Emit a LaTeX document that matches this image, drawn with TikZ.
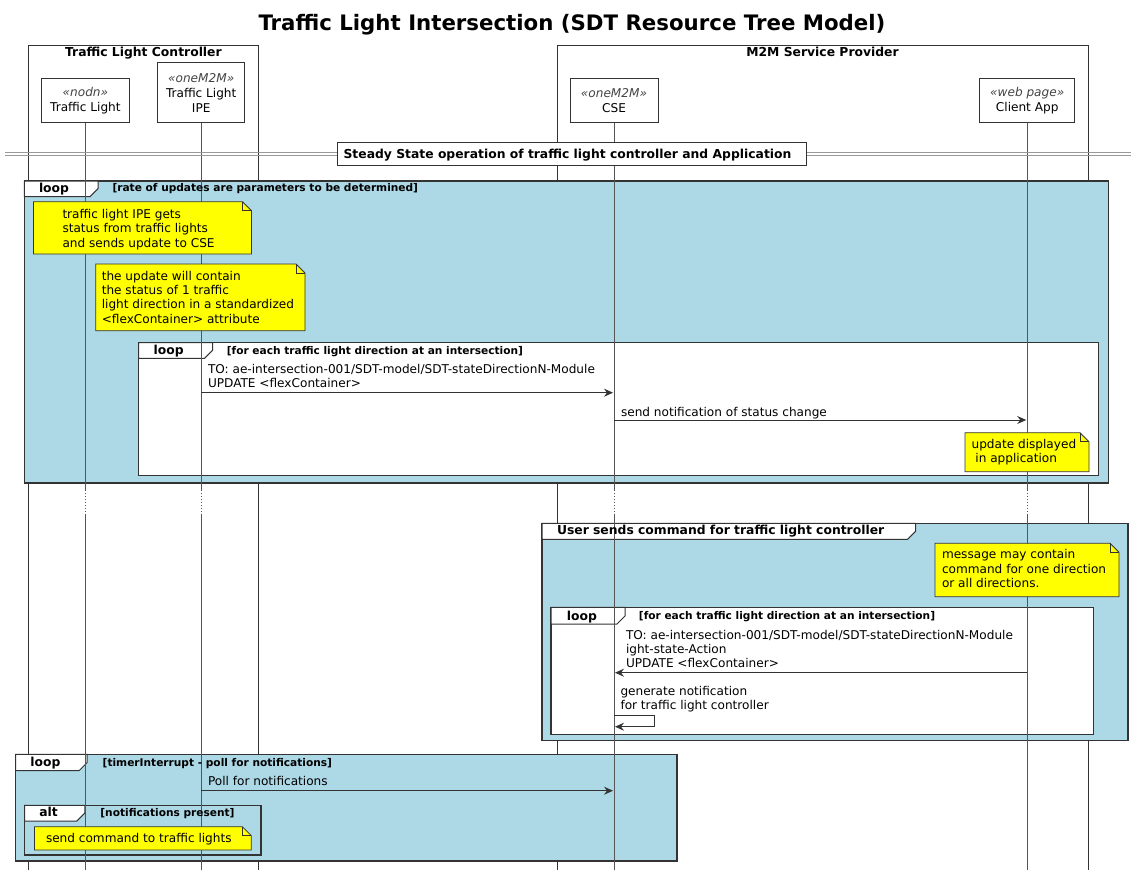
\documentclass[tikz,border=0pt]{standalone}
\usepackage{fontspec}
\setmainfont{DejaVu Sans}
\usetikzlibrary{arrows.meta}

\definecolor{grpblue}{HTML}{ADD8E6}
\definecolor{noteyel}{HTML}{FFFF00}
\definecolor{edgec}{HTML}{333333}
\definecolor{lifec}{HTML}{555555}
\definecolor{stereoc}{HTML}{444444}
\definecolor{dividerc}{HTML}{999999}

\newcommand\msgfont{\fontsize{12.1}{14.5}\selectfont}
\newcommand\partfont{\fontsize{12.1}{15}\selectfont}
\newcommand\headfont{\fontsize{12.35}{14.5}\selectfont\bfseries}
\newcommand\condfont{\fontsize{10.6}{13}\selectfont\bfseries}
\newcommand\titlefont{\fontsize{21.3}{25}\selectfont\bfseries}

% group header tab with the clipped lower-right corner
\newcommand\tabshape[4]{\path[tabsty] (#1,#2) -- (#3,#2) -- (#3,{#4-8}) -- ({#3-8},#4) -- (#1,#4) -- cycle;}
% note with a folded upper-right corner
\newcommand\notebox[4]{%
  \path[notesty] (#1,#2) -- ({#3-9},#2) -- (#3,{#2+9}) -- (#3,#4) -- (#1,#4) -- cycle;
  \draw[edgec, line width=0.8pt] ({#3-9},#2) -- ({#3-9},{#2+9}) -- (#3,{#2+9});}

\tikzset{
  every node/.style={inner sep=0pt, outer sep=0pt},
  boxline/.style={draw=edgec, line width=1pt},
  partbox/.style={draw=edgec, fill=white, line width=1pt, align=center, font=\partfont},
  life/.style={draw=lifec, line width=1pt},
  lifedot/.style={life, dash pattern=on 1pt off 2pt},
  grp/.style={fill=grpblue, draw=edgec, line width=1.5pt},
  inner/.style={fill=white, draw=edgec, line width=1.5pt},
  tabsty/.style={fill=white, draw=edgec, line width=1pt},
  notesty/.style={fill=noteyel, draw=edgec, line width=0.8pt},
  msg/.style={draw=edgec, line width=1pt, shorten >=1pt,
    -{Stealth[length=9pt, width=8pt, inset=3pt]}},
  txt/.style={anchor=base west, font=\msgfont, text=black},
  head/.style={anchor=base west, font=\headfont},
  cond/.style={anchor=base west, font=\condfont},
}

\begin{document}
\begin{tikzpicture}[x=1pt, y=-1pt]
\useasboundingbox (0,0) rectangle (1131,870);

% title
\node[anchor=base, font=\titlefont] (title) at (572,30) {Traffic Light Intersection (SDT Resource Tree Model)};

% helper levels
\coordinate (gapA) at (0,490);
\coordinate (gapB) at (0,515);
\coordinate (bottom) at (0,870);

% participant boxes (open at the bottom)
\draw[boxline] (28.6,870) -- (28.6,45) -- (258,45) -- (258,870);
\draw[boxline] (557,870) -- (557,45) -- (1088.4,45) -- (1088.4,870);
\node[anchor=base, font=\headfont] (tlcname) at (143.4,56) {Traffic Light Controller};
\node[anchor=base, font=\headfont] (m2mname) at (822.5,56) {M2M Service Provider};

% participants
\node[partbox, minimum width=87.2pt, minimum height=44.4pt] (tl) at (85.4,100.5)
  {{\itshape\color{stereoc}«nodn»}\\Traffic Light};
\node[partbox, minimum width=87.5pt, minimum height=60pt] (ipe) at (201.2,92.7)
  {{\itshape\color{stereoc}«oneM2M»}\\Traffic Light\\IPE};
\node[partbox, minimum width=88pt, minimum height=44.4pt] (cse) at (614,100.5)
  {{\itshape\color{stereoc}«oneM2M»}\\CSE};
\node[partbox, minimum width=94.5pt, minimum height=44.4pt] (app) at (1027.2,100.5)
  {{\itshape\color{stereoc}«web page»}\\Client App};

% group backgrounds
\draw[grp] (24.3,181) rectangle (1108.4,483.2);
\tabshape{24.3}{181}{98}{196.7}
\draw[inner] (138.6,342.5) rectangle (1098.6,475.7);
\tabshape{138.6}{342.5}{212.5}{358.3}

\draw[grp] (542.2,523.3) rectangle (1128,740.7);
\tabshape{542.2}{523.3}{915.5}{539.3}
\draw[inner] (551.2,607.3) rectangle (1093.6,734.3);
\tabshape{551.2}{607.3}{625}{624}

\draw[grp] (15.6,754.3) rectangle (677.2,861);
\tabshape{15.6}{754.3}{87}{770.7}
\draw[grp] (24.6,805.3) rectangle (261,855);
\tabshape{24.6}{805.3}{84.8}{821}

% lifelines
\foreach \p in {tl,ipe,cse,app} {
  \draw[life] (\p.south) -- (\p.south |- gapA);
  \draw[lifedot] (\p.south |- gapA) -- (\p.south |- gapB);
  \draw[life] (\p.south |- gapB) -- (\p.south |- bottom);
}

% divider
\draw[dividerc, line width=1pt] (5,152.3) -- (1131,152.3);
\draw[dividerc, line width=1pt] (5,155.3) -- (1131,155.3);
\node[draw=edgec, fill=white, line width=1pt, minimum width=469pt, minimum height=22.7pt] (divbox) at (572,153.7) {};
\node[head] (divtext) at (343.6,158) {Steady State operation of traffic light controller and Application};

% group labels
\node[head] (loopA) at (39,192) {loop};
\node[cond] (condA) at (112.5,191.5) {[rate of updates are parameters to be determined]};
\node[head] (loopB) at (153.6,354.5) {loop};
\node[cond] (condB) at (226.8,354) {[for each traffic light direction at an intersection]};
\node[head] (grpU) at (557,534.5) {User sends command for traffic light controller};
\node[head] (loopC) at (566.8,620) {loop};
\node[cond] (condC) at (638.9,619.5) {[for each traffic light direction at an intersection]};
\node[head] (loopD) at (30.4,766.5) {loop};
\node[cond] (condD) at (102.7,766.5) {[timerInterrupt - poll for notifications]};
\node[head] (altE) at (39.3,816.7) {alt};
\node[cond] (condE) at (100.4,816.7) {[notifications present]};

% notes
\notebox{33.5}{201.7}{251.5}{254}
\foreach \t [count=\i from 0] in {traffic light IPE gets, status from traffic lights, and sends update to CSE}
  \node[txt] (na\i) at (62.5,{218+14.5*\i}) {\t};
\notebox{95.7}{264}{305}{330.7}
\foreach \t [count=\i from 0] in {the update will contain, the status of 1 traffic, light direction in a standardized, <flexContainer> attribute}
  \node[txt] (nb\i) at (101.8,{280.3+14.3*\i}) {\t};
\notebox{965}{432.7}{1089}{471.7}
\node[txt] (nc0) at (971.6,448) {update displayed};
\node[txt] (nc1) at (975.4,462.5) {in application};
\notebox{935}{543.3}{1119}{596.7}
\foreach \t [count=\i from 0] in {message may contain, command for one direction, or all directions.}
  \node[txt] (nd\i) at (942,{558.5+14.5*\i}) {\t};
\notebox{34.4}{826.7}{251.3}{850}
\node[txt] (ne0) at (46,842) {send command to traffic lights};

% messages
\coordinate (y1) at (0,392.7);
\node[txt] (m1a) at (208,373) {TO: ae-intersection-001/SDT-model/SDT-stateDirectionN-Module};
\node[txt] (m1b) at (208,387) {UPDATE <flexContainer>};
\draw[msg] (ipe |- y1) -- (cse |- y1);

\coordinate (y2) at (0,420);
\node[txt] (m2a) at (621,416) {send notification of status change};
\draw[msg] (cse |- y2) -- (app |- y2);

\coordinate (y3) at (0,672.7);
\node[txt] (m3a) at (626,639.5) {TO: ae-intersection-001/SDT-model/SDT-stateDirectionN-Module};
\node[txt] (m3b) at (626,653.5) {ight-state-Action};
\node[txt] (m3c) at (626,667) {UPDATE <flexContainer>};
\draw[msg] (app |- y3) -- (cse |- y3);

\coordinate (y4a) at (0,715);
\coordinate (y4b) at (0,726.7);
\node[txt] (m4a) at (620.5,695) {generate notification};
\node[txt] (m4b) at (620.5,709.3) {for traffic light controller};
\draw[msg] (cse |- y4a) -- ++(40.4,0) -- ++(0,11.7) -- (cse |- y4b);

\coordinate (y5) at (0,790.7);
\node[txt] (m5a) at (208,785) {Poll for notifications};
\draw[msg] (ipe |- y5) -- (cse |- y5);
\end{tikzpicture}
\end{document}
